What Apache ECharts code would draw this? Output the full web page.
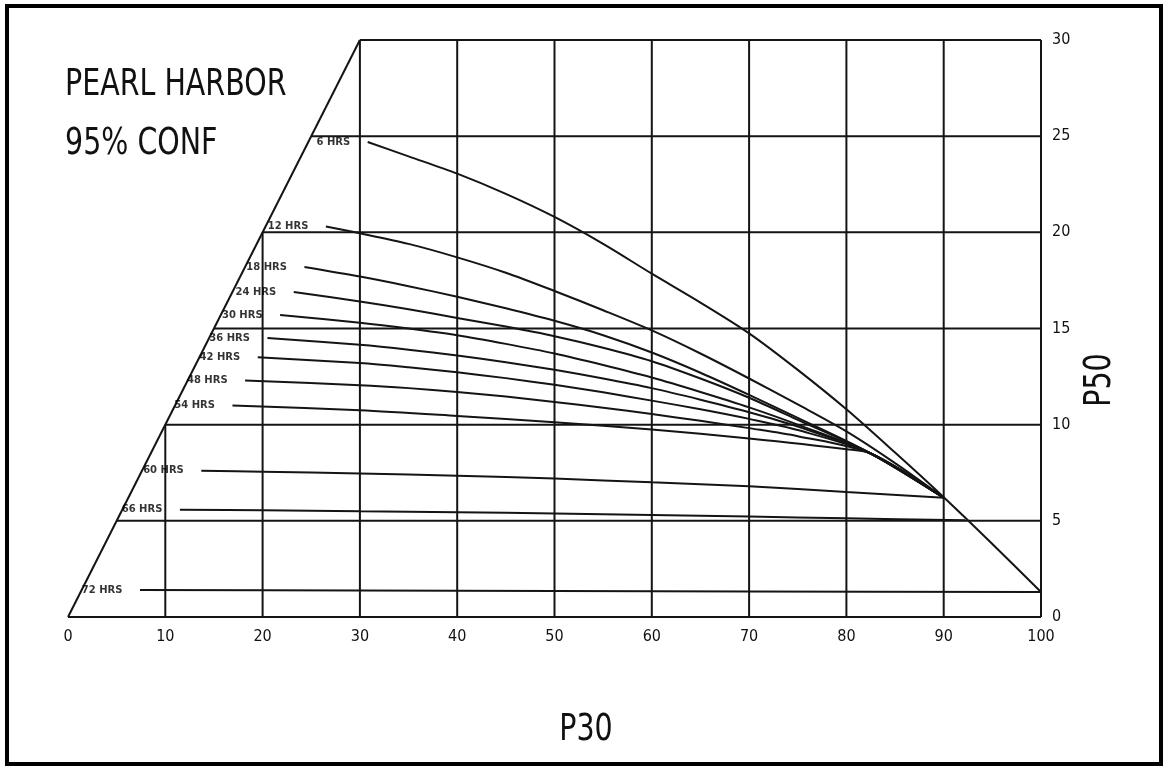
<!DOCTYPE html>
<html>
<head>
<meta charset="utf-8">
<script src="https://cdn.jsdelivr.net/npm/echarts@6/dist/echarts.min.js"></script>
<style>
html,body{margin:0;padding:0;background:#fff;}
#chart{width:1168px;height:770px;}
</style>
</head>
<body>
<div id="chart"></div>
<script>
// ---- tick labels ----
const xTicks = [0,10,20,30,40,50,60,70,80,90,100];
const yTicks = [0,5,10,15,20,25,30];

// ---- curve names ----
const curveLabels = ['6 HRS','12 HRS','18 HRS','24 HRS','30 HRS','36 HRS','42 HRS','48 HRS','54 HRS','60 HRS','66 HRS','72 HRS'];

// ---- curves [P30, P50] ----
const hrs6  = [[30.8,24.7],[35,23.95],[40,23.05],[45,22.0],[50,20.8],[55,19.4],[60,17.85],[65,16.35],[70,14.75],[75,12.85],[80,10.8],[85,8.55],[90,6.23],[95,3.8],[100,1.3]];
const hrs12 = [[26.5,20.3],[30,19.95],[35,19.4],[40,18.7],[45,17.9],[50,16.95],[55,15.95],[60,14.9],[65,13.7],[70,12.4],[75,11.05],[80,9.65],[85,8.0],[90,6.2]];
const hrs18 = [[24.3,18.2],[30,17.7],[35,17.2],[40,16.65],[45,16.05],[50,15.4],[55,14.65],[60,13.75],[65,12.7],[70,11.55],[75,10.35],[82.5,8.5],[90,6.2]];
const hrs24 = [[23.2,16.9],[30,16.4],[35,16.0],[40,15.55],[45,15.1],[50,14.6],[55,14.0],[60,13.3],[65,12.4],[70,11.4],[75,10.25],[82.5,8.5],[90,6.2]];
const hrs30 = [[21.8,15.7],[30,15.3],[35,15.0],[40,14.65],[45,14.2],[50,13.7],[55,13.1],[60,12.45],[65,11.7],[70,10.9],[75,10.0],[82.5,8.5],[90,6.2]];
const hrs36 = [[20.5,14.5],[30,14.15],[35,13.9],[40,13.6],[45,13.25],[50,12.85],[55,12.4],[60,11.9],[65,11.3],[70,10.65],[75,9.9],[82.5,8.5],[90,6.2]];
const hrs42 = [[19.5,13.5],[30,13.2],[35,12.98],[40,12.72],[45,12.42],[50,12.07],[55,11.68],[60,11.25],[65,10.8],[70,10.3],[75,9.72],[82.5,8.5],[90,6.2]];
const hrs48 = [[18.2,12.3],[30,12.05],[35,11.9],[40,11.7],[45,11.46],[50,11.18],[55,10.88],[60,10.55],[65,10.2],[70,9.82],[75,9.4],[82.5,8.5],[90,6.2]];
const hrs54 = [[16.9,11.0],[30,10.75],[40,10.45],[50,10.12],[60,9.75],[70,9.28],[80,8.72],[82.5,8.5],[90,6.2]];
const hrs60 = [[13.7,7.6],[20,7.55],[30,7.46],[40,7.35],[50,7.2],[60,7.0],[70,6.8],[80,6.5],[90,6.2]];
const hrs66 = [[11.5,5.58],[20,5.55],[30,5.5],[40,5.45],[50,5.38],[60,5.3],[70,5.22],[80,5.13],[92.2,5.03]];
const hrs72 = [[7.4,1.4],[30,1.38],[50,1.35],[70,1.33],[100,1.3]];

const curves = [hrs6,hrs12,hrs18,hrs24,hrs30,hrs36,hrs42,hrs48,hrs54,hrs60,hrs66,hrs72];

const INK = '#141414';
const xMax = xTicks[xTicks.length-1];
const yMax = yTicks[yTicks.length-1];

// grid segments clipped by the diagonal P50 = P30
const gridSegs = [];
xTicks.forEach(k => { if (k > 0 && k < xMax) gridSegs.push([[k,0],[k,Math.min(k,yMax)]]); });
yTicks.forEach(k => { if (k > 0 && k < yMax) gridSegs.push([[k,k],[xMax,k]]); });
gridSegs.push([[0,0],[yMax,yMax]]);
gridSegs.push([[yMax,yMax],[xMax,yMax]]);
gridSegs.push([[xMax,0],[xMax,yMax]]);
gridSegs.push([[0,0],[xMax,0]]);

const series = [];
gridSegs.forEach(seg => series.push({
  type:'line', data:seg, symbol:'none', silent:true, animation:false,
  lineStyle:{color:INK, width:2}, z:1
}));
curves.forEach((c,i) => series.push({
  type:'line', name:curveLabels[i], data:c, symbol:'none', smooth:0.3, silent:true, animation:false,
  lineStyle:{color:INK, width:2}, z:2
}));
series.push({
  type:'scatter', silent:true, animation:false, symbolSize:1,
  itemStyle:{color:'rgba(0,0,0,0)'},
  data: curves.map((c,i) => ({value:c[0], name:curveLabels[i]})),
  label:{show:true, position:'left', distance:17, formatter:p=>p.name,
    fontFamily:'DejaVu Sans', fontSize:10, fontWeight:'bold', color:'#000'}
});

const chart = echarts.init(document.getElementById('chart'), null, {renderer:'canvas'});
chart.setOption({
  backgroundColor:'#fff',
  animation:false,
  grid:{left:68, right:127, top:40, bottom:153},
  xAxis:{type:'value', min:xTicks[0], max:xMax, interval:10,
    axisLine:{show:false}, axisTick:{show:false}, splitLine:{show:false},
    axisLabel:{margin:12, color:'#111', fontFamily:'DejaVu Sans Condensed', fontSize:16,
      formatter:v=>xTicks.includes(v)?String(v):''}},
  yAxis:{type:'value', position:'right', min:yTicks[0], max:yMax, interval:5,
    axisLine:{show:false}, axisTick:{show:false}, splitLine:{show:false},
    axisLabel:{margin:11, color:'#111', fontFamily:'DejaVu Sans Condensed', fontSize:16,
      formatter:v=>yTicks.includes(v)?String(v):''}},
  graphic:[
    {type:'rect', silent:true, shape:{x:7,y:6,width:1154,height:758}, style:{fill:null, stroke:'#000', lineWidth:4}},
    {type:'text', silent:true, x:65, y:85, scaleX:0.75, style:{text:'PEARL HARBOR', font:'38px "DejaVu Sans"', fill:'#111', verticalAlign:'middle'}},
    {type:'text', silent:true, x:65, y:144, scaleX:0.75, style:{text:'95% CONF', font:'38px "DejaVu Sans"', fill:'#111', verticalAlign:'middle'}},
    {type:'text', silent:true, x:586, y:730, scaleX:0.75, style:{text:'P30', font:'38px "DejaVu Sans"', fill:'#111', align:'center', verticalAlign:'middle'}},
    {type:'text', silent:true, x:1100, y:380, rotation:Math.PI/2, scaleX:0.75, style:{text:'P50', font:'38px "DejaVu Sans"', fill:'#111', align:'center', verticalAlign:'middle'}}
  ],
  series: series
});
</script>
</body>
</html>
